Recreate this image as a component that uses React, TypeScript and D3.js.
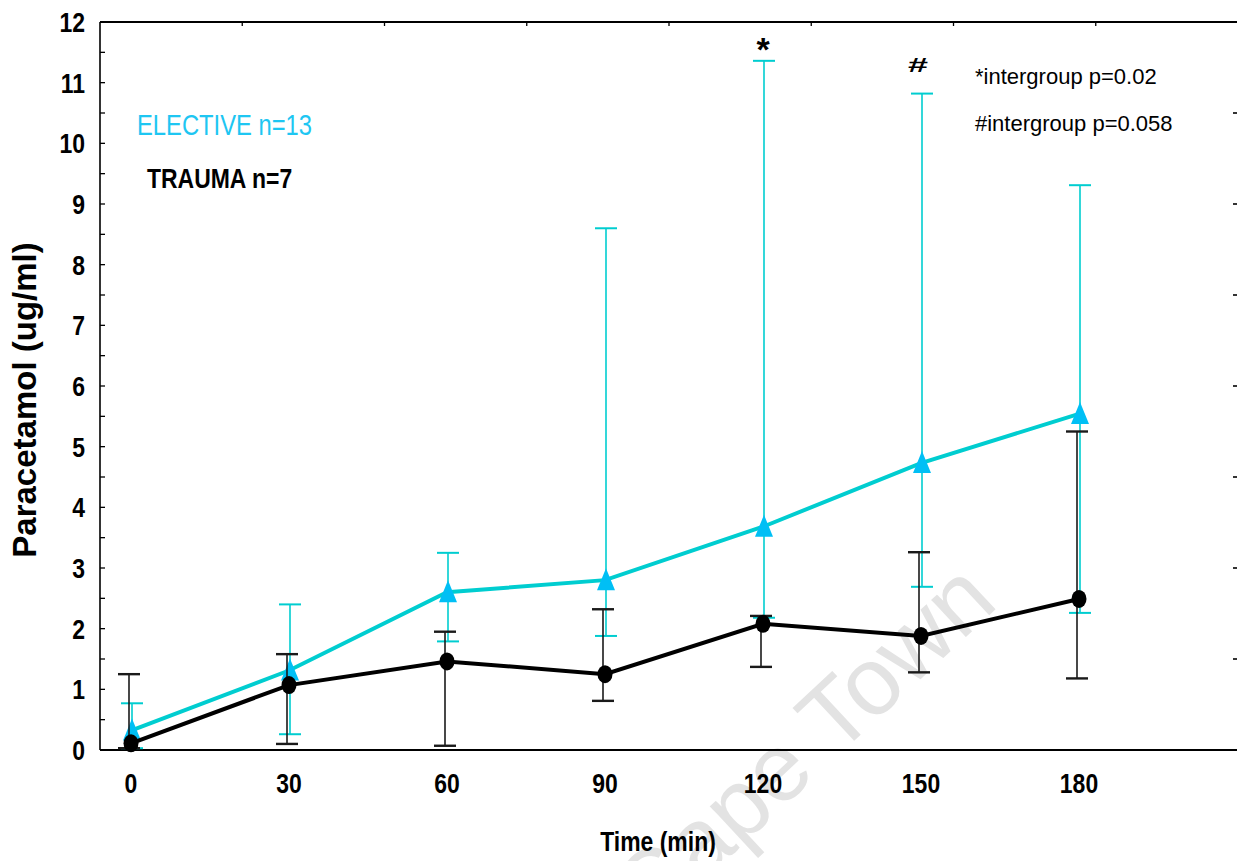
import React from "react";
import * as d3 from "d3";

// Sampling times (min)
const times = [0, 30, 60, 90, 120, 150, 180];

// ELECTIVE group: mean with asymmetric error range (ug/ml)
const electiveMean = [0.32, 1.31, 2.6, 2.8, 3.68, 4.73, 5.54];
const electiveUpper = [0.77, 2.4, 3.25, 8.6, 11.36, 10.82, 9.31];
const electiveLower = [0.03, 0.26, 1.79, 1.88, 2.18, 2.69, 2.26];

// TRAUMA group
const traumaMean = [0.11, 1.07, 1.46, 1.25, 2.08, 1.88, 2.49];
const traumaUpper = [1.25, 1.58, 1.95, 2.32, 2.21, 3.26, 5.25];
const traumaLower = [0.03, 0.1, 0.07, 0.81, 1.37, 1.28, 1.18];

const xTickLabels = ["0", "30", "60", "90", "120", "150", "180"];
const yTickValues = [0, 1, 2, 3, 4, 5, 6, 7, 8, 9, 10, 11, 12];

const W = 1237;
const H = 861;
const frame = { left: 100, right: 1238, top: 22, bottom: 750 };

const SANS = "'Liberation Sans', Arial, sans-serif";
const CONDENSE = 0.82;

const LINE_CYAN = "#00cdd0";
const MARK_CYAN = "#00bff5";
const LEGEND_CYAN = "#1ec6f2";

type NarrowProps = {
  x: number;
  y: number;
  size: number;
  anchor?: "start" | "middle" | "end";
  bold?: boolean;
  fill?: string;
  children: React.ReactNode;
};

// Condensed sans label (horizontal squeeze of the regular face)
function Narrow({ x, y, size, anchor = "start", bold = false, fill = "#000", children }: NarrowProps) {
  return (
    <text
      transform={`translate(${x},${y}) scale(${CONDENSE},1)`}
      textAnchor={anchor}
      fontFamily={SANS}
      fontWeight={bold ? "bold" : "normal"}
      fontSize={size}
      fill={fill}
    >
      {children}
    </text>
  );
}

export default function App() {
  const x = d3.scaleLinear().domain([0, 180]).range([131, 1079]);
  const y = d3.scaleLinear().domain([0, 12]).range([frame.bottom, frame.top]);

  // Secondary frame ticks: top and right edges split into eight parts
  const topTick = d3.scaleLinear().domain([0, 8]).range([frame.left, frame.right]);
  const rightTick = d3.scaleLinear().domain([0, 8]).range([frame.bottom, frame.top]);
  const eighths = d3.range(1, 8);

  const minorY = d3.range(0.5, 12, 1);

  const line = d3
    .line<number>()
    .x((_, i) => x(times[i]))
    .y((d) => y(d));

  const capHalf = 11;

  const errorBars = (
    mean: number[],
    lo: number[],
    hi: number[],
    color: string,
    dx: number,
    stemW: number,
    capW: number,
    key: string
  ) =>
    mean.map((_, i) => {
      const cx = x(times[i]) + dx;
      return (
        <g key={`${key}-${i}`} stroke={color}>
          <line x1={cx} x2={cx} y1={y(hi[i])} y2={y(lo[i])} strokeWidth={stemW} />
          <line x1={cx - capHalf} x2={cx + capHalf} y1={y(hi[i])} y2={y(hi[i])} strokeWidth={capW} />
          <line x1={cx - capHalf} x2={cx + capHalf} y1={y(lo[i])} y2={y(lo[i])} strokeWidth={capW} />
        </g>
      );
    });

  const triangle = (cx: number, cy: number) => {
    const p = d3.path();
    p.moveTo(cx, cy - 12);
    p.lineTo(cx - 9, cy + 10);
    p.lineTo(cx + 9, cy + 10);
    p.closePath();
    return p.toString();
  };

  return (
    <svg
      width={W}
      height={H}
      style={{ position: "absolute", left: 0, top: 0, background: "#fff" }}
    >
      <rect x={0} y={0} width={W} height={H} fill="#fff" />

      {/* watermark */}
      <text
        transform="translate(1000,605) rotate(-43)"
        textAnchor="end"
        fontFamily={SANS}
        fontSize={96}
        fill="#e3e3e3"
      >
        University of Cape Town
      </text>

      {/* frame */}
      <line x1={frame.left} x2={frame.right} y1={frame.top} y2={frame.top} stroke="#000" strokeWidth={2.2} />
      <line x1={frame.left} x2={frame.left} y1={frame.top} y2={frame.bottom} stroke="#000" strokeWidth={1.6} />
      <line x1={frame.left} x2={frame.right} y1={frame.bottom} y2={frame.bottom} stroke="#000" strokeWidth={2.2} />

      {/* left axis ticks */}
      {yTickValues.map((v) => (
        <line key={`yt${v}`} x1={frame.left} x2={frame.left + 5} y1={y(v)} y2={y(v)} stroke="#000" strokeWidth={1.3} />
      ))}
      {minorY.map((v) => (
        <line key={`ym${v}`} x1={frame.left} x2={frame.left + 5} y1={y(v)} y2={y(v)} stroke="#000" strokeWidth={1.3} />
      ))}
      {/* top and right edge ticks */}
      {eighths.map((k) => (
        <line key={`tt${k}`} x1={topTick(k)} x2={topTick(k)} y1={frame.top} y2={frame.top + 4} stroke="#000" strokeWidth={1.3} />
      ))}
      {eighths.map((k) => (
        <line key={`rt${k}`} x1={W - 4} x2={W} y1={rightTick(k)} y2={rightTick(k)} stroke="#000" strokeWidth={1.6} />
      ))}

      {/* y tick labels */}
      {yTickValues.map((v) => (
        <Narrow key={`yl${v}`} x={85} y={y(v) + 10} size={28} anchor="end" bold>
          {v}
        </Narrow>
      ))}
      {/* x tick labels */}
      {times.map((t, i) => (
        <Narrow key={`xl${t}`} x={x(t)} y={793} size={28} anchor="middle" bold>
          {xTickLabels[i]}
        </Narrow>
      ))}

      {/* axis titles */}
      <Narrow x={658} y={851} size={28} anchor="middle" bold>
        Time (min)
      </Narrow>
      <text
        transform="translate(36,400) rotate(-90)"
        textAnchor="middle"
        fontFamily={SANS}
        fontWeight="bold"
        fontSize={33}
        fill="#000"
      >
        Paracetamol (ug/ml)
      </text>

      {/* ELECTIVE series */}
      {errorBars(electiveMean, electiveLower, electiveUpper, LINE_CYAN, 1, 1.6, 2, "e")}
      <path d={line(electiveMean) ?? ""} fill="none" stroke={LINE_CYAN} strokeWidth={4} />
      {electiveMean.map((v, i) => (
        <path key={`tri${i}`} d={triangle(x(times[i]) + 1, y(v))} fill={MARK_CYAN} />
      ))}

      {/* TRAUMA series */}
      {errorBars(traumaMean, traumaLower, traumaUpper, "#1a1a1a", -2, 1.6, 2.4, "t")}
      <path d={line(traumaMean) ?? ""} fill="none" stroke="#000" strokeWidth={4} />
      {traumaMean.map((v, i) => (
        <ellipse key={`dot${i}`} cx={x(times[i])} cy={y(v)} rx={7.5} ry={9} fill="#000" />
      ))}

      {/* significance markers */}
      <text x={x(120)} y={61} textAnchor="middle" fontFamily={SANS} fontWeight="bold" fontSize={34} fill="#000">
        *
      </text>
      <text
        transform={`translate(${x(150) - 3},72) scale(1.5,0.85)`}
        textAnchor="middle"
        fontFamily={SANS}
        fontWeight="bold"
        fontSize={24}
        fill="#000"
      >
        #
      </text>

      {/* legend */}
      <Narrow x={137} y={135} size={29} fill={LEGEND_CYAN}>
        ELECTIVE n=13
      </Narrow>
      <Narrow x={147} y={188} size={28} bold>
        TRAUMA n=7
      </Narrow>

      {/* annotations */}
      <text x={975} y={84} fontFamily={SANS} fontSize={22} fill="#000">
        *intergroup p=0.02
      </text>
      <text x={975} y={131} fontFamily={SANS} fontSize={22} fill="#000">
        #intergroup p=0.058
      </text>
    </svg>
  );
}
